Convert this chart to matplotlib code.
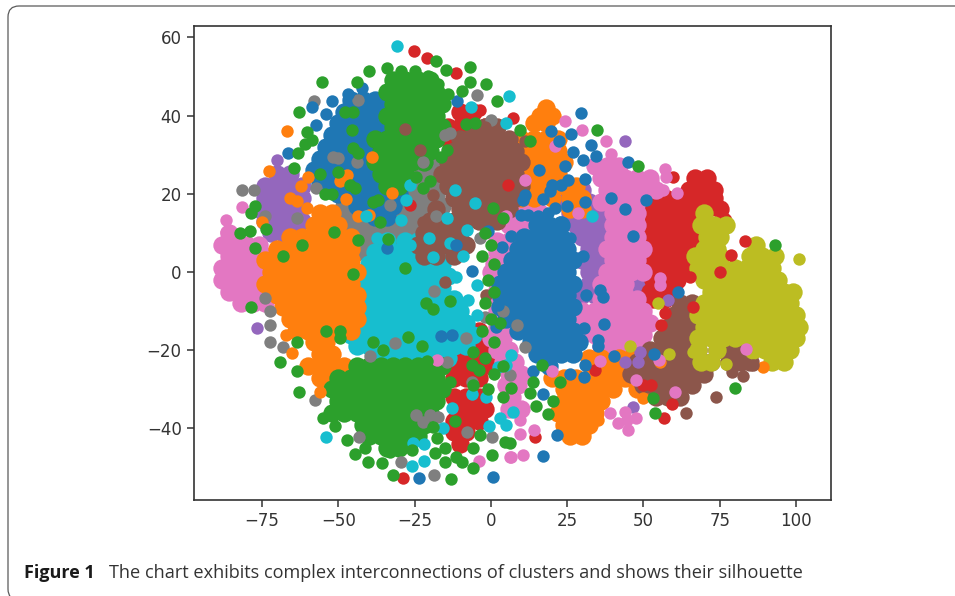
import matplotlib
matplotlib.use('Agg')
import matplotlib.pyplot as plt
from matplotlib.patches import FancyBboxPatch
from matplotlib.transforms import IdentityTransform

## values: dense parts, y -> x values

gray_rows = {29: [-24, -20], 26: [-30, -26, -22, -18], 23: [-38, -34, -30, -26, -22, -18],
             20: [-46, -42, -38, -34, -30, -26, -22, -18],
             17: [-48, -44, -40, -36, -32, -28, -24, -20, -16],
             14: [-50, -46, -42, -38, -34, -30, -26, -22, -18],
             11: [-48, -44, -40, -36, -32, -28, -24, -20, -16],
             8: [-50, -46, -42, -38, -34, -30, -26, -22, -18, -14],
             5: [-48, -44, -40, -36, -32, -28, -24, -20, -16]}
purple_rows = {25: [-70, -66], 22: [-74, -70, -66, -62], 19: [-74, -70, -66, -62],
               16: [-76, -72, -68, -64], 13: [-74, -70, -66, -62], 10: [-72, -68, -64],
               21: [26, 30], 18: [24, 28, 32], 15: [26, 30, 34, 38], 12: [28, 32, 36],
               9: [30, 34, 38], 6: [32, 36, 40], 3: [30, 34, 38], 0: [32, 36],
               -3: [32, 36, 48], -6: [30, 34, 52]}
red_rows = {41: [-10, -6], 37: [-14, -10, -6, -2], 34: [-14, -10],
            24: [67, 71], 21: [65, 69, 73], 19: [53, 57, 61, 65, 69, 73],
            16: [51, 55, 59, 63, 67, 71, 75], 13: [53, 57, 61, 65, 69, 76],
            10: [51, 55, 59, 63, 67], 7: [51, 55, 59, 63, 67], 4: [53, 57, 61, 65],
            1: [51, 55, 59, 63], -2: [53, 57, 61], -5: [52, 56, 60], -7: [53, 57],
            -15: [-4], -18: [-8, -4, 0], -21: [-10, -6, -2], -24: [-12, -8, -4, 0],
            -27: [-12, -8, -4], -32: [-12, -8, -4], -35: [-10, -6, -2], -38: [-12, -8, -4],
            -41: [-12, -8], -44: [-10]}
pink_rows = {27: [34, 38, 42], 24: [36, 40, 44, 48, 52], 21: [38, 42, 46, 50, 54],
             18: [36, 40, 44, 48], 15: [8, 12, 16, 40, 44, 48], 12: [6, 10, 40, 44, 48],
             10: [-86], 9: [40, 44, 48], 8: [2, 6], 7: [-88, -84, -80, -76],
             6: [38, 42, 46, 50], 5: [2, 6], 4: [-86, -82, -78, -74],
             3: [40, 44, 48], 2: [1, 5], 1: [-88, -84, -80, -76, -72],
             0: [38, 42, 46, 50, 0, 4], -2: [-88, -84, -80, -76, -72],
             -3: [36, 40, 44, 2], -5: [-86, -82, -78, -74], -6: [40, 44, 1],
             -8: [-82, -78, -74], -7: [36, 40, 44, 48], -10: [30, 34, 38, 42, 46, 50, 2],
             -13: [28, 32, 36, 40, 44, 48, 52], -14: [2, 6],
             -16: [30, 34, 38, 42, 46, 50], -17: [0, 4], -19: [36, 40, 44, 48],
             -20: [2, 6], -23: [4, 8], -26: [6, 10], -29: [5, 9], -32: [7], -35: [6, 10]}
cyan_rows = {8: [-34, -28, -24], 5: [-38, -34, -30, -26, -22, -18],
             2: [-40, -36, -32, -28, -24, -20, -16],
             -1: [-42, -38, -34, -30, -26, -22, -18, -14],
             -4: [-44, -40, -36, -32, -28, -24, -20, -16],
             -7: [-44, -40, -36, -32, -28, -24, -20, -16, -12],
             -10: [-46, -42, -38, -34, -30, -26, -22, -18, -14, -10],
             -13: [-44, -40, -36, -32, -28, -24, -20, -16, -12, -8],
             -16: [-46, -42, -38, -34, -30, -26, -22, -18, -14, -10, -6],
             -19: [-44, -40, -36, -32, -28, -24, -20, -16, -12, -8],
             -22: [-38, -34, -30, -26, -22, -18, -14]}
orange_rows = {42: [18], 40: [16, 20], 38: [14, 18], 34: [10, 14, 18, 22],
               31: [6, 10, 14, 18, 22], 28: [4, 8, 12, 16, 20, 24], 25: [6, 10, 14, 18, 22],
               22: [8, 12, 16, 20, 24, 28], 19: [10, 14, 20, 26, 30], 16: [26, 30],
               15: [-56, -52], 12: [-58, -54, -50],
               9: [-66, -62, -58, -54, -50, -46], 6: [-70, -66, -62, -58, -54, -50, -46],
               3: [-74, -70, -66, -62, -58, -54, -50, -46],
               0: [-72, -68, -64, -60, -56, -52, -48, -44],
               -3: [-74, -70, -66, -62, -58, -54, -50, -46],
               -6: [-70, -66, -62, -58, -54, -50, -46, -44],
               -9: [-68, -64, -60, -56, -52, -48, -44],
               -12: [-66, -62, -58, -54, -50, -46, -44],
               -15: [-64, -60, -56, -50, -46], -18: [-58, -54], -21: [-56, -52],
               -24: [-60, -56, -52, -48, 36, 40, 44], -22: [32, 36, 42, 46],
               -27: [-56, -52, 20, 24, 28, 32, 36, 40, 44, 48],
               -30: [24, 28, 32, 36, 40, 48, 52], -33: [24, 28, 32, 36],
               -36: [22, 26, 30, 34], -39: [24, 28, 32], -42: [26, 30]}
brown_rows = {37: [-6, -2, 2], 34: [-10, -6, -2, 2, 6], 31: [-12, -8, -4, 0, 4, 8],
              28: [-14, -10, -6, -2, 2, 6, 10], 25: [-16, -12, -8, -4, 0, 4, 8],
              22: [-14, -10, -6, -2, 2, 6, 10], 19: [-12, -8, -4, 0, 4, 8],
              16: [-18, -10, -6, -2, 2, 6], 13: [-20, -16, -12, -8, -4, 0, 2],
              10: [-22, -18, -14, -10], 7: [-24, -20, -16, -8], 4: [-22, -18, -12],
              -8: [62, 66], -11: [60, 64, 68], -14: [58, 62, 66], -17: [56, 60, 64, 68],
              -20: [52, 56, 60, 64, 68, 74, 78, 82],
              -23: [48, 52, 56, 60, 64, 68, 72, 78, 82, 85],
              -26: [46, 50, 54, 58, 62, 66, 70], -29: [50, 54, 58, 62, 66], -32: [54, 58, 62]}
olive_rows = {15: [70], 12: [69, 73, 77], 9: [71, 75], 7: [87], 6: [70, 74],
              4: [67, 71, 75, 85, 89, 93], 1: [68, 72, 76, 80, 84, 88, 92],
              -2: [70, 74, 78, 82, 86, 90, 94], -5: [72, 76, 80, 84, 88, 92, 96, 99],
              -8: [70, 74, 78, 82, 86, 90, 94, 98],
              -11: [68, 72, 76, 80, 84, 88, 92, 96, 100],
              -14: [70, 74, 78, 82, 86, 90, 94, 98, 101],
              -17: [68, 72, 76, 80, 84, 88, 92, 96, 100],
              -20: [68, 74, 86, 90, 94, 98], -23: [69, 72, 92, 96]}
blue_rows = {44: [-46, -42, -38, -34, -30], 41: [-48, -44, -40, -36, -32, -28],
             38: [-50, -46, -42, -38, -34, -30], 35: [-52, -48, -44, -40, -36, -32],
             32: [-54, -50, -46, -42, -38, -34, -30], 29: [-56, -52, -48, -44, -40, -36, -32],
             26: [-58, -54, -50, -46, -42, -38, -34, -30],
             23: [-56, -52, -48, -44, -40, -36, -32, -28],
             20: [-50, -46, -42, -38, -34, -30], 17: [-44, -40, -36, -32], 14: [-38, -34],
             12: [15, 19, 23], 9: [11, 15, 19, 23], 6: [9, 13, 17, 21, 25],
             3: [7, 11, 15, 19, 23, 27], 0: [5, 9, 13, 17, 21, 25],
             -3: [3, 7, 11, 15, 19, 23, 27], -6: [5, 9, 13, 17, 21, 25],
             -9: [3, 7, 11, 15, 19, 23, 27], -12: [5, 9, 13, 17, 21, 25],
             -15: [9, 13, 17, 21, 25, 27], -18: [13, 17, 21, 25, 29], -21: [15, 19, 23, 27],
             -24: [19]}
green_rows = {49: [-32, -28, -24, -20], 46: [-34, -30, -26, -22, -18],
              43: [-32, -28, -24, -20, -16], 40: [-34, -30, -26, -22, -18],
              37: [-32, -28, -24, -20, -16], 34: [-38, -34, -30, -26, -22, -18],
              31: [-36, -32, -28, -24, -20], 28: [-38, -34, -30, -26, -22],
              25: [-36, -32, -28], 22: [-34, -30],
              -24: [-44, -40, -36, -32, -28, -24, -20, -16],
              -27: [-50, -46, -42, -38, -34, -30, -26, -22, -18],
              -30: [-52, -48, -44, -40, -36, -32, -28, -24, -20, -16],
              -33: [-50, -46, -42, -38, -34, -30, -26, -22, -18],
              -36: [-52, -48, -44, -40, -36, -32, -28, -24, -20],
              -39: [-42, -38, -34, -30, -26, -22], -42: [-40, -36, -32, -28, -24],
              -45: [-34, -30]}

## single points around and over the dense parts

gray_pts = [(-58, 43.6), (-81.5, 20.9), (-77.6, 20.9), (-74.1, 14.2), (-4.7, 45.3), (0, 38.9),
            (-43.5, 44), (-51.7, 29.4), (-50, 29.1), (-44, 28.1), (-22.2, 28.1), (-15, 35),
            (-13.4, 35.5), (-18.1, 14.4), (-57.2, 21.5), (-63.7, 13.8), (-33.1, 17.2),
            (-3.6, 8.7), (-57.6, -32.7), (-72.5, -18), (-68.1, -19.3), (-72.5, -13.5),
            (-72.5, -10.1), (-74.1, -6.7), (-29.5, -48.5), (-18.6, -52), (-43.3, -42.1),
            (0.4, -42.3), (-6.3, -28), (-7.7, -41), (-8, -16.8), (-18.6, -4.8), (-2, -11.4),
            (-22.2, -38.3), (-20, -36.5), (-17.3, -37), (-24.4, -36.5), (-39.7, -21.6),
            (-31.5, -18.2), (-14.5, -22.9), (4, -10.1), (8.4, -13.5), (11.1, -19.2),
            (6.2, -26.3)]
purple_pts = [(-70, 28.6), (-76.8, -14.4), (44, 33.4), (46.6, -34.4), (43.9, -23.1),
              (48.3, -23.1), (48.8, -20.4), (58.1, -7.1)]
red_pts = [(-25.2, 56.4), (-21.1, 54.7), (-11.3, 51), (-3.6, 41.5), (-26.6, 17.2), (5.7, 22.3),
           (7.3, 39.3), (83.3, 8), (78.7, 4.4), (59.8, 24.2), (75.6, 15.9), (-28.7, -52.7),
           (-9.6, -44), (66.3, -9), (56.8, -37.4), (59.4, -33.8), (34.1, -25), (52.6, -28.9),
           (49.9, -29), (75, 0.1), (14.4, -42.1), (65.2, -1.2), (55.9, -13.5), (57, -10.6)]
orange_pts = [(-66.9, 36), (-72.7, 25.7), (-60.1, 24.4), (-62.1, 22), (-65.9, 18.9),
              (-63.7, 18.2), (-75.2, 12.7), (-47.5, 18.6), (-32.4, 20.2), (-43.7, 14.2),
              (-39.9, 14.6), (-47.3, 24.9), (-49.5, 23.2), (-60.4, 16.3), (-39.1, 29.5),
              (-67.2, -16.1), (-65.1, -20.8), (-56, -30.6), (35.2, -37.8), (89.3, -24.2),
              (49.9, -32.3), (55.4, -22.9)]
brown_pts = [(-28.2, 36.6), (-23.3, 31.3), (-18.9, 19.8), (-2, 37.2), (1.6, 35.9), (-22.2, 12.9),
             (-15.1, -2.5), (-1.6, -5.9), (11.1, 33.6), (73.8, -32), (64, -36), (56, -32),
             (82.8, -26.6), (79, -25.6), (86, -23.8)]
olive_pts = [(101, 3.3), (87.1, 4.8), (90.4, 3.6), (84.4, 2.3), (77.2, -23.5), (58.4, -21),
             (66.1, -20.5), (45.5, -19), (54.8, -8)]
pink_pts = [(-81.5, 16.6), (-86.7, 13.4), (-86.7, 10.2), (5.1, 14.2), (24.2, 38.5), (29.9, 36.4),
            (37.7, 33.6), (39.3, 30.1), (21, 32.1), (57, 26.4), (57.4, 24.4), (11.3, 23.6),
            (28.6, 15), (53, 23), (56.5, 21), (60.9, 20.2), (49.4, 21.9), (37.9, 26.6),
            (41.2, 26.6), (-3.8, -48.2), (6.2, -47.2), (-17.6, -22.5), (10.6, -46.8),
            (6.7, -47.2), (9.5, -41.4), (14.2, -40.4), (20, -25.3), (9.5, -37.8), (39, -36.1),
            (43.9, -35.7), (47.5, -37.4), (45, -40.4), (41.7, -38.7), (44.5, -37.8),
            (60.3, -30.6), (47.5, -27.6), (83.6, -19.8), (35.7, -22.7), (55.2, -22.5),
            (55.4, -3.3), (55.4, -1.6)]
cyan_pts = [(-30.7, 57.7), (-6.6, 42.3), (5.9, 44.9), (5, 38), (-11.8, 20.9), (-5.2, 17.6),
            (-29.6, 13.4), (-40.8, 14.2), (-37.5, 8.7), (-20.2, 8.7), (-7.7, 10.8), (-14.5, 13.8),
            (-13.4, 7.4), (-9.3, 4.2), (-18.9, 3.8), (-26.6, 7), (-27.7, 18.4), (-26.6, 22.3),
            (33.2, 14.2), (-54.2, -42.1), (-21.9, -44), (-25.7, -43.8), (-21.9, -48.2),
            (-25.8, -49.6), (-15.6, -40), (-6.3, -31.2), (-1.7, -31.9), (-0.6, -39.4),
            (3, -37.4), (5.1, -39.1), (-12.9, -34.8), (2.4, -24.2), (5.1, -23.8), (-11.3, -1.2),
            (-4.7, -3.3), (-7.4, -7.1), (-4.7, -11), (-11.8, -10.1), (7.3, -35.7), (6.7, -21.2)]
blue_pts = [(-58.5, 42.3), (-52, 43.6), (-47, 45.5), (-53.9, 40.4), (-57.2, 37.6), (-66.5, 30.4),
            (-42.4, 47), (-11, 43.8), (-0.9, 10.4), (3.7, 6.5), (-11.3, 7), (-34.2, 6.1),
            (29.7, 40.6), (19.6, 36.1), (26.4, 35.3), (22.3, 33.6), (32.8, 32.5), (34.4, 29.7),
            (27, 30.8), (30.2, 28.7), (24.2, 27), (44.9, 28.1), (15.8, 26.1), (30.8, 23.8),
            (25.3, 23.4), (23.1, 22.3), (19.9, 22.3), (17.1, 18.6), (19.3, 20.6), (11.1, 19.8),
            (10.4, 18.5), (39.5, 18.9), (30.8, 18), (50.8, 18.3), (44, 16.2), (25, 16.8),
            (21, 16.3), (18.8, 15), (15.5, 14.2), (12.2, 14.6), (10, 14.6), (22.6, 12.9),
            (46.6, 9.1), (6.7, 9.1), (25.9, 8.7), (30.2, 4), (-23.5, -52.7), (0.8, -52.4),
            (-16.2, -16.4), (-12.6, -16.1), (-6.3, 0.3), (2.4, -6.3), (2.4, -8.4), (1.6, -14),
            (17.1, -47), (21.8, -41.7), (13.9, -25.3), (17.1, -31.2), (25.9, -26.1),
            (30.6, -26.9), (30.6, -14.4), (37.2, -13.4), (35.2, -17.4), (35.2, -19),
            (40.3, -21.4), (53.4, -21), (61.4, -5.2), (35.7, -4.6), (36.6, -6.5), (31.3, -5.9),
            (30.8, -23.8)]
green_pts = [(-55.4, 48.7), (-39.9, 51.4), (-34, 52.1), (-29.5, 51.3), (-24.8, 51.3), (-18.1, 54),
             (-14.8, 51.7), (-6.7, 52.4), (-6.7, 48.5), (-1.6, 48), (2.1, 43.8), (-9.6, 46.2),
             (-14, 45.6), (-17.3, 48), (-20.5, 50.2), (-44, 48.7), (-63, 40.9), (-60.4, 35.8),
             (-58.8, 33.8), (-61, 32.7), (-63.2, 30.4), (-64.6, 26.6), (-47.9, 40.8),
             (-45.2, 40.8), (-45.5, 36.2), (-45.2, 31.7), (-43.5, 30.4), (-55.9, 25.1),
             (-50, 25.5), (-46.2, 22.3), (-44.6, 21.5), (-54.4, 20), (-52.2, 20), (-36.9, 18.5),
             (-38.6, 18), (-36.4, 12.9), (-43.5, 8.2), (-51.5, 10.2), (-61.8, 7), (-68.1, 4.2),
             (-77.4, 16.8), (-78.7, 15.1), (-79, 10.4), (-82.3, 10), (-77.4, 6.1), (-73.6, 11),
             (-24.4, 24.4), (-20, 23.2), (-22.2, 21.5), (-14.5, 31.3), (-16.2, 29.4),
             (-33.7, 8.4), (0.8, 16.3), (4, 13.8), (-8, 37.9), (-5.2, 38),
             (34.8, 36.4), (48.3, 27), (9.5, 36.4), (93, 6.8), (12.8, 33.4),
             (-78.5, -9), (-63.7, -18), (-69, -23), (-63.5, -25.3), (-63, -30.6), (-45.1, -0.6),
             (-28.2, 1), (-53.9, -15), (-49.5, -15), (-49.5, -17), (-38.6, -18), (-35.3, -20),
             (-27.3, -16.7), (-22.7, -19), (-21.3, -8), (-19.1, -9.4), (-13.4, -7.4),
             (-5.8, -20.4), (-6.3, -23.8), (-13.4, -28.2), (-21.1, -22.7), (-11.8, -38.2),
             (-18.9, -39.7), (-17.8, -42.5), (-15.1, -44.9), (-18.4, -46.3), (-5.8, -45),
             (0.5, -46.8), (-3.6, -41.8), (-11.3, -47.2), (-9.6, -48.5), (-15.1, -48.6),
             (-5.8, -50.2), (-13.1, -52.9), (-32, -51.9), (-35.6, -48.9), (-40.2, -48.5),
             (-44.6, -46.6), (-41.3, -44.9), (-47.3, -42.9), (-51, -39.5), (-55.2, -37.4),
             (-26, -45.5), (-29.9, -45), (-33.1, -45.9), (4.6, -43.4), (80, -29.6), (53.7, -36.1),
             (53.2, -32.3), (18.8, -36.4), (14.9, -34.2), (20.4, -33.1), (22.6, -28), (12.8, -31),
             (13.9, -28), (6.7, -29.6), (6.2, -43.8), (16.6, -23.8),
             (-2, 10), (0, 7), (-3, 4), (1, 2), (-1, -2), (1, -5), (-2, -8), (0, -12), (-3, -15),
             (1, -18), (-2, -22), (1, -26), (-1, -30), (3, -13), (4, -24), (-4, -25), (-6, -29),
             (4, -32)]

xticks = [-75, -50, -25, 0, 25, 50, 75, 100]
yticks = [-40, -20, 0, 20, 40, 60]
caption_head = 'Figure 1'
caption_text = 'The chart exhibits complex interconnections of clusters and shows their silhouette'

layers = [(gray_rows, '#7f7f7f'), (purple_rows, '#9467bd'), (red_rows, '#d62728'),
          (pink_rows, '#e377c2'), (cyan_rows, '#17becf'), (orange_rows, '#ff7f0e'),
          (brown_rows, '#8c564b'), (olive_rows, '#bcbd22'), (blue_rows, '#1f77b4'),
          (green_rows, '#2ca02c')]
singles = [(gray_pts, '#7f7f7f'), (purple_pts, '#9467bd'), (red_pts, '#d62728'),
           (orange_pts, '#ff7f0e'), (brown_pts, '#8c564b'), (olive_pts, '#bcbd22'),
           (pink_pts, '#e377c2'), (cyan_pts, '#17becf'), (blue_pts, '#1f77b4'),
           (green_pts, '#2ca02c')]

W, H = 955, 596
fig = plt.figure(figsize=(W/100, H/100), dpi=100)

# card outline around plot and caption, runs off the right and bottom edge
card = FancyBboxPatch((8, -4), 1000, 594, boxstyle='round,pad=0,rounding_size=11',
                      transform=IdentityTransform(), fc='white', ec='#5a5a5a', lw=0.9, zorder=-1)
fig.add_artist(card)

ax = fig.add_axes([193.5/W, (H-500)/H, 637.5/W, 474/H])

# rows are sparser than the real cloud, so the dense parts get a bigger dot to close up
for rows, col in layers:
    xs = [x for y in rows for x in rows[y]]
    ys = [y for y in rows for x in rows[y]]
    ax.scatter(xs, ys, s=175, c=col, linewidths=0)

for pts, col in singles:
    ax.scatter([p[0] for p in pts], [p[1] for p in pts], s=80, c=col, linewidths=0)

ax.set_xlim(-97.5, 111.5)
ax.set_ylim(-58.3, 62.9)
ax.set_xticks(xticks)
ax.set_yticks(yticks)
ax.tick_params(labelsize=12, length=5, width=1.1, color='#333333', labelcolor='#333333')
for s in ax.spines.values():
    s.set_linewidth(1.2)
    s.set_color('#333333')

y_cap = 1 - 573/H
fig.text(24/W, y_cap, caption_head, family='Open Sans', fontweight='bold', fontsize=13,
         color='#1a1a1a', va='center')
fig.text(109/W, y_cap, caption_text, family='Open Sans', fontsize=13.1,
         color='#333333', va='center')

fig.savefig('out.png', dpi=100)
